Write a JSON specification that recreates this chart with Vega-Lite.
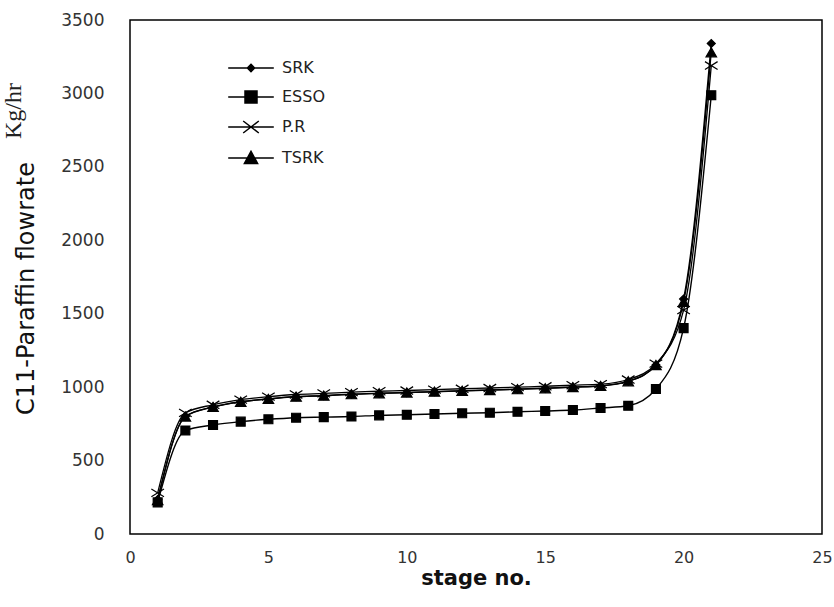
{
  "$schema": "https://vega.github.io/schema/vega-lite/v6.json",
  "width": 692,
  "height": 514,
  "autosize": {"type": "none"},
  "padding": {"left": 130, "top": 20, "right": 12, "bottom": 73},
  "background": "white",
  "title": {
    "text": "Kg/hr",
    "orient": "left",
    "anchor": "end",
    "frame": "group",
    "font": "Liberation Serif",
    "fontSize": 24,
    "fontWeight": "normal",
    "color": "#222",
    "offset": -11,
    "dx": -63
  },
  "data": {
    "values": [
      {"stage": 1, "series": "SRK", "flow": 235},
      {"stage": 2, "series": "SRK", "flow": 800},
      {"stage": 3, "series": "SRK", "flow": 865},
      {"stage": 4, "series": "SRK", "flow": 900},
      {"stage": 5, "series": "SRK", "flow": 920},
      {"stage": 6, "series": "SRK", "flow": 935},
      {"stage": 7, "series": "SRK", "flow": 942},
      {"stage": 8, "series": "SRK", "flow": 952},
      {"stage": 9, "series": "SRK", "flow": 958},
      {"stage": 10, "series": "SRK", "flow": 963},
      {"stage": 11, "series": "SRK", "flow": 969},
      {"stage": 12, "series": "SRK", "flow": 975},
      {"stage": 13, "series": "SRK", "flow": 980},
      {"stage": 14, "series": "SRK", "flow": 986},
      {"stage": 15, "series": "SRK", "flow": 992},
      {"stage": 16, "series": "SRK", "flow": 1000},
      {"stage": 17, "series": "SRK", "flow": 1008},
      {"stage": 18, "series": "SRK", "flow": 1040},
      {"stage": 19, "series": "SRK", "flow": 1150},
      {"stage": 20, "series": "SRK", "flow": 1600},
      {"stage": 21, "series": "SRK", "flow": 3340},
      {"stage": 1, "series": "ESSO", "flow": 215},
      {"stage": 2, "series": "ESSO", "flow": 705},
      {"stage": 3, "series": "ESSO", "flow": 742},
      {"stage": 4, "series": "ESSO", "flow": 765},
      {"stage": 5, "series": "ESSO", "flow": 781},
      {"stage": 6, "series": "ESSO", "flow": 792},
      {"stage": 7, "series": "ESSO", "flow": 796},
      {"stage": 8, "series": "ESSO", "flow": 800},
      {"stage": 9, "series": "ESSO", "flow": 808},
      {"stage": 10, "series": "ESSO", "flow": 812},
      {"stage": 11, "series": "ESSO", "flow": 817},
      {"stage": 12, "series": "ESSO", "flow": 822},
      {"stage": 13, "series": "ESSO", "flow": 826},
      {"stage": 14, "series": "ESSO", "flow": 832},
      {"stage": 15, "series": "ESSO", "flow": 838},
      {"stage": 16, "series": "ESSO", "flow": 844},
      {"stage": 17, "series": "ESSO", "flow": 858},
      {"stage": 18, "series": "ESSO", "flow": 873},
      {"stage": 19, "series": "ESSO", "flow": 987},
      {"stage": 20, "series": "ESSO", "flow": 1402},
      {"stage": 21, "series": "ESSO", "flow": 2988},
      {"stage": 1, "series": "P.R", "flow": 280},
      {"stage": 2, "series": "P.R", "flow": 825},
      {"stage": 3, "series": "P.R", "flow": 880},
      {"stage": 4, "series": "P.R", "flow": 915},
      {"stage": 5, "series": "P.R", "flow": 935},
      {"stage": 6, "series": "P.R", "flow": 950},
      {"stage": 7, "series": "P.R", "flow": 957},
      {"stage": 8, "series": "P.R", "flow": 966},
      {"stage": 9, "series": "P.R", "flow": 972},
      {"stage": 10, "series": "P.R", "flow": 977},
      {"stage": 11, "series": "P.R", "flow": 983},
      {"stage": 12, "series": "P.R", "flow": 989},
      {"stage": 13, "series": "P.R", "flow": 994},
      {"stage": 14, "series": "P.R", "flow": 1000},
      {"stage": 15, "series": "P.R", "flow": 1006},
      {"stage": 16, "series": "P.R", "flow": 1013},
      {"stage": 17, "series": "P.R", "flow": 1020},
      {"stage": 18, "series": "P.R", "flow": 1052},
      {"stage": 19, "series": "P.R", "flow": 1160},
      {"stage": 20, "series": "P.R", "flow": 1525},
      {"stage": 21, "series": "P.R", "flow": 3190},
      {"stage": 1, "series": "TSRK", "flow": 230},
      {"stage": 2, "series": "TSRK", "flow": 800},
      {"stage": 3, "series": "TSRK", "flow": 865},
      {"stage": 4, "series": "TSRK", "flow": 900},
      {"stage": 5, "series": "TSRK", "flow": 920},
      {"stage": 6, "series": "TSRK", "flow": 935},
      {"stage": 7, "series": "TSRK", "flow": 942},
      {"stage": 8, "series": "TSRK", "flow": 952},
      {"stage": 9, "series": "TSRK", "flow": 958},
      {"stage": 10, "series": "TSRK", "flow": 963},
      {"stage": 11, "series": "TSRK", "flow": 969},
      {"stage": 12, "series": "TSRK", "flow": 975},
      {"stage": 13, "series": "TSRK", "flow": 980},
      {"stage": 14, "series": "TSRK", "flow": 986},
      {"stage": 15, "series": "TSRK", "flow": 992},
      {"stage": 16, "series": "TSRK", "flow": 1000},
      {"stage": 17, "series": "TSRK", "flow": 1008},
      {"stage": 18, "series": "TSRK", "flow": 1040},
      {"stage": 19, "series": "TSRK", "flow": 1150},
      {"stage": 20, "series": "TSRK", "flow": 1580},
      {"stage": 21, "series": "TSRK", "flow": 3280}
    ]
  },
  "encoding": {
    "x": {
      "field": "stage",
      "type": "quantitative",
      "scale": {"domain": [0, 25], "nice": false, "zero": false},
      "axis": {
        "title": "stage no.",
        "values": [0, 5, 10, 15, 20, 25],
        "format": "d",
        "labelFont": "DejaVu Sans",
        "labelFontSize": 16,
        "labelColor": "#333",
        "labelPadding": 15,
        "labelFlush": false,
        "titleFont": "DejaVu Sans",
        "titleFontSize": 21,
        "titleFontWeight": "bold",
        "titleColor": "#111",
        "titlePadding": 2
      }
    },
    "y": {
      "field": "flow",
      "type": "quantitative",
      "scale": {"domain": [0, 3500], "nice": false},
      "axis": {
        "title": "C11-Paraffin flowrate",
        "values": [0, 500, 1000, 1500, 2000, 2500, 3000, 3500],
        "format": "d",
        "labelFont": "DejaVu Sans",
        "labelFontSize": 17,
        "labelColor": "#333",
        "labelPadding": 26,
        "labelFlush": false,
        "titleFont": "DejaVu Sans",
        "titleFontSize": 24,
        "titleFontWeight": "normal",
        "titleColor": "#111",
        "titlePadding": 22,
        "titleY": 268
      }
    }
  },
  "layer": [
    {
      "mark": {"type": "line", "interpolate": "monotone", "color": "black"},
      "encoding": {
        "detail": {"field": "series", "type": "nominal"},
        "strokeWidth": {
          "field": "series",
          "type": "nominal",
          "scale": {"domain": ["SRK", "ESSO", "P.R", "TSRK"], "range": [1.5, 1.2, 1.5, 1.5]},
          "legend": null
        }
      }
    },
    {
      "mark": {"type": "point", "fill": "black", "stroke": "black", "strokeWidth": 1.2, "opacity": 1},
      "encoding": {
        "shape": {
          "field": "series",
          "type": "nominal",
          "scale": {
            "domain": ["SRK", "ESSO", "P.R", "TSRK"],
            "range": ["diamond", "square", "M-1.3,-0.8L1.3,0.8M-1.3,0.8L1.3,-0.8", "triangle-up"]
          },
          "legend": null
        },
        "size": {
          "field": "series",
          "type": "nominal",
          "scale": {"domain": ["SRK", "ESSO", "P.R", "TSRK"], "range": [64, 110, 144, 130]},
          "legend": null
        }
      }
    },
    {
      "transform": [{"filter": "datum.stage < 0"}],
      "mark": {"type": "point", "filled": false, "color": "black", "strokeWidth": 1.5, "opacity": 1, "size": 144},
      "encoding": {
        "shape": {
          "field": "series",
          "type": "nominal",
          "scale": {
            "domain": ["SRK", "ESSO", "P.R", "TSRK"],
            "range": [
              "M-3.8,0H3.8M0,-0.6L0.6,0L0,0.6L-0.6,0Z",
              "M-3.8,0H3.8M-1,-1H1V1H-1Z",
              "M-3.8,0H3.8M-1.3,-1L1.3,1M-1.3,1L1.3,-1",
              "M-3.8,0H3.8M0,-1.1L1.1,0.9H-1.1Z"
            ]
          },
          "legend": {
            "title": null,
            "orient": "none",
            "legendX": 97,
            "legendY": 40,
            "padding": 0,
            "symbolSize": 144,
            "symbolStrokeWidth": 1.5,
            "symbolOffset": 16,
            "labelOffset": 23,
            "labelFont": "DejaVu Sans",
            "labelFontSize": 16,
            "labelColor": "#222",
            "rowPadding": 12
          }
        }
      }
    },
    {
      "transform": [{"filter": "datum.stage < 0"}],
      "mark": {"type": "point", "filled": true, "color": "black", "opacity": 1, "size": 144},
      "encoding": {
        "shape": {
          "field": "series",
          "type": "nominal",
          "scale": {
            "domain": ["SRK", "ESSO", "P.R", "TSRK"],
            "range": [
              "M0,-0.6L0.6,0L0,0.6L-0.6,0Z",
              "M-1,-1H1V1H-1Z",
              "M-1.3,-1L1.3,1M-1.3,1L1.3,-1",
              "M0,-1.1L1.1,0.9H-1.1Z"
            ]
          },
          "legend": {
            "title": null,
            "orient": "none",
            "legendX": 97,
            "legendY": 40,
            "padding": 0,
            "symbolSize": 144,
            "symbolStrokeWidth": 1.5,
            "symbolOffset": 16,
            "labelOffset": 23,
            "labelFont": "DejaVu Sans",
            "labelFontSize": 16,
            "labelOpacity": 0,
            "rowPadding": 12
          }
        }
      }
    }
  ],
  "resolve": {
    "scale": {"shape": "independent", "size": "independent"},
    "legend": {"shape": "independent"}
  },
  "config": {
    "view": {"stroke": "black", "strokeWidth": 1.5},
    "axis": {"domain": false, "ticks": false, "grid": false}
  }
}
